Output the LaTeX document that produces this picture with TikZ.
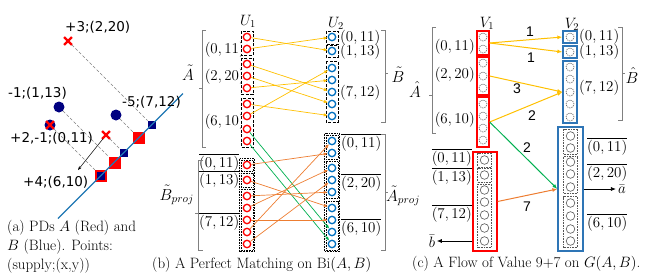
\RequirePackage{fix-cm}
\documentclass[tikz,border=0pt]{standalone}
\usepackage{fontspec}
\usetikzlibrary{arrows.meta,shapes.misc}
\newfontfamily\dvsans{DejaVu Sans}
\newfontfamily\lsans{Liberation Sans}
\newcommand\myfs{\fontsize{15}{19}\selectfont}
\newcommand\bigfs{\fontsize{16}{19}\selectfont}
\definecolor{pdnavy}{HTML}{000080}
\definecolor{diagblue}{HTML}{1F77B4}
\definecolor{cblue}{HTML}{0070C0}
\definecolor{boxblue}{HTML}{2E75B6}
\definecolor{eyel}{HTML}{FFC000}
\definecolor{eorg}{HTML}{ED7D31}
\definecolor{egrn}{HTML}{00B050}
\definecolor{brgray}{HTML}{808080}
\definecolor{cgray}{HTML}{555555}
\begin{document}
\begin{tikzpicture}[x=1pt,y=-1pt,font=\myfs,
  lab/.style={inner sep=0pt},
  plab/.style={inner sep=0pt,font=\dvsans\fontsize{13.5}{16}\selectfont},
  elab/.style={inner sep=0pt,font=\lsans\fontsize{14}{16}\selectfont},
  blab/.style={inner sep=0pt,font=\bigfs},
  rc/.style={circle,draw=red,line width=1.3pt,fill=white,minimum size=7.4pt,inner sep=0pt},
  bcc/.style={circle,draw=cblue,line width=1.3pt,fill=white,minimum size=7.4pt,inner sep=0pt},
  dashbox/.style={draw=black,line width=1pt,dash pattern=on 3pt off 1.5pt,fill=white},
  dotbox/.style={draw=black,line width=0.8pt,dash pattern=on 0.8pt off 0.8pt,fill=white},
  yel/.style={draw=eyel,line width=0.7pt,-{Latex[length=4pt,width=3.4pt]}},
  org/.style={draw=eorg,line width=0.7pt,-{Latex[length=4pt,width=3.4pt]}},
  grn/.style={draw=egrn,line width=0.7pt,-{Latex[length=4pt,width=3.4pt]}},
  yelc/.style={draw=eyel,line width=1pt,-{Latex[length=5pt,width=4pt]}},
  orgc/.style={draw=eorg,line width=1pt,-{Latex[length=5pt,width=4pt]}},
  grnc/.style={draw=egrn,line width=1pt,-{Latex[length=5pt,width=4pt]}},
  blkc/.style={draw=black,line width=0.7pt,-{Latex[length=5pt,width=4pt]}},
  brk/.style={draw=brgray,line width=0.8pt},
  redbox/.style={rectangle,draw=red,line width=1.3pt,fill=white,minimum width=12pt,inner sep=0pt},
  bluebox/.style={rectangle,draw=boxblue,line width=1.3pt,fill=white,minimum width=14pt,inner sep=0pt},
  ibox/.style={rectangle,draw=cgray,line width=0.7pt,dash pattern=on 0.8pt off 0.8pt,fill=white,minimum width=14pt,inner sep=0pt},
  dcirc/.style={circle,draw=cgray,line width=0.6pt,dash pattern=on 1.2pt off 1pt,minimum size=8pt,inner sep=0pt},
  scirc/.style={circle,draw=cgray,line width=0.6pt,minimum size=8.6pt,inner sep=0pt},
  bdot/.style={circle,fill=pdnavy,minimum size=11pt,inner sep=0pt},
  xm/.style={cross out,draw=red,line width=2.3pt,minimum size=5.5pt,inner sep=0pt},
  rsq/.style={rectangle,fill=red,minimum size=12pt,inner sep=0pt},
  nsq/.style={rectangle,fill=pdnavy,minimum size=8.5pt,inner sep=0pt},
  pdash/.style={draw=brgray,line width=0.7pt,dash pattern=on 3pt off 2pt}]
\useasboundingbox (0,0) rectangle (664,274);

% ================= panel (a) =================
\node[bdot] (pB1) at (59,107) {};
\node[bdot] (pB2) at (116,115) {};
\node[bdot] (pB0) at (50,125) {};
\node[xm] (pA1) at (68,41) {};
\node[xm] (pA2) at (106,135) {};
\node[xm] (pA0) at (50,125) {};
\node[rsq] (sB2) at (139,138) {};
\node[rsq] (sB1) at (114.5,162.5) {};
\node[rsq] (sB0) at (101,176) {};
\node[nsq] (sA1) at (152,125) {};
\node[nsq] (sA2) at (124,153) {};
\node[nsq] (sA0) at (101,176) {};
\draw[pdash] (pA1) -- (sA1);
\draw[pdash] (pB2) -- (sB2);
\draw[pdash] (pB1) -- (sB1);
\draw[pdash] (pB0) -- (sB0);
\draw[pdash] (pA2) -- (sA2);
\coordinate (d1) at (58,218.5);
\coordinate (d2) at (183,93.5);
\draw[diagblue,line width=1.1pt] (d1) -- (d2);
\coordinate (ann) at (78,170);
\draw[black,line width=0.5pt,-{Stealth[length=4pt,width=3pt]}] (pA2) -- (ann);
\node[plab,anchor=west] (lA1) at (65,27) {+3;(2,20)};
\node[plab,anchor=west] (lB1) at (8,93) {-1;(1,13)};
\node[plab,anchor=west] (lB0) at (10,138) {+2,-1;(0,11)};
\node[plab,anchor=west] (lB2) at (122,102) {-5;(7,12)};
\node[plab,anchor=west] (lA2) at (23,182) {+4;(6,10)};
\node[lab,anchor=base west] (capa1) at (7,231) {(a) PDs $A$ (Red) and};
\node[lab,anchor=base west] (capa2) at (7,250) {$B$ (Blue). Points:};
\node[lab,anchor=base west] (capa3) at (7,269) {(supply;(x,y))};

% ================= panel (b) =================
\node[lab,anchor=east] (tA1) at (245,50) {$(0,11)$};
\node[lab,anchor=east] (tA2) at (245,77) {$(2,20)$};
\node[lab,anchor=east] (tA3) at (245,122) {$(6,10)$};
\node[lab,anchor=base west] (tB1) at (199,167) {$\overline{(0,11)}$};
\node[lab,anchor=base west] (tB2) at (199,184) {$\overline{(1,13)}$};
\node[lab,anchor=base west] (tB3) at (199,226) {$\overline{(7,12)}$};
\node[lab,anchor=west] (uB1) at (340,38) {$(0,11)$};
\node[lab,anchor=west] (uB2) at (340,52) {$(1,13)$};
\node[lab,anchor=west] (uB3) at (340,93) {$(7,12)$};
\node[lab,anchor=base west] (uA1) at (341,147) {$\overline{(0,11)}$};
\node[lab,anchor=base west] (uA2) at (341,187) {$\overline{(2,20)}$};
\node[lab,anchor=base west] (uA3) at (341,232) {$\overline{(6,10)}$};

\draw[dashbox] (241,31) rectangle (253,55);
\draw[dashbox] (241,58) rectangle (253,94);
\draw[dashbox] (241,98) rectangle (253,147);
\draw[dashbox] (326,31) rectangle (338,44);
\draw[dashbox] (326,45.5) rectangle (338,57);
\draw[dashbox] (326,61) rectangle (338,122);
\draw[dotbox] (239.5,158.5) rectangle (254.5,251.5);
\draw[dotbox] (241,160) rectangle (253,171.5);
\draw[dotbox] (241,173) rectangle (253,187);
\draw[dotbox] (241,189) rectangle (253,250);
\draw[dotbox] (324.5,133.5) rectangle (339.5,251.5);
\draw[dotbox] (326,135) rectangle (338,159);
\draw[dotbox] (326,161.5) rectangle (338,198.5);
\draw[dotbox] (326,201.5) rectangle (338,250);

\foreach \n/\y in {1/37,2/49,3/64,4/76,5/88,6/104,7/116,8/129,9/141,10/165,11/180,12/196,13/208,14/220,15/232,16/244}
  \node[rc] (r\n) at (247,\y) {};
\foreach \n/\y in {1/37,2/51,3/68,4/80,5/92,6/104,7/116,8/141,9/153,10/168,11/180,12/192,13/208,14/220,15/232,16/244}
  \node[bcc] (b\n) at (332,\y) {};

\foreach \a/\b in {1/2,2/1,3/5,4/6,5/4,6/7,7/3} \draw[yel] (r\a) -- (b\b);
\foreach \a/\b in {8/15,9/16} \draw[grn] (r\a) -- (b\b);
\foreach \a/\b in {10/9,11/13,12/12,13/10,14/14,15/8,16/11} \draw[org] (r\a) -- (b\b);

\node[lab,anchor=base] (U1) at (248,25) {$U_1$};
\node[lab,anchor=base] (U2) at (336,27) {$U_2$};

\draw[brk] (206,30) -- (202,30) -- (202,147) -- (206,147);
\draw[brk] (202,88) -- (199,88);
\draw[brk] (203,160) -- (198,160) -- (198,250) -- (203,250);
\draw[brk] (198,213) -- (195,213);
\draw[brk] (381,30) -- (385,30) -- (385,122) -- (381,122);
\draw[brk] (385,73) -- (388,73);
\draw[brk] (381,134) -- (385,134) -- (385,250) -- (381,250);
\draw[brk] (385,192) -- (388,192);
\node[blab,anchor=base] (lAt) at (188,80) {$\tilde A$};
\node[blab,anchor=base east] (lBp) at (194,200) {$\tilde B_{proj}$};
\node[blab,anchor=base] (lBt) at (398,82) {$\tilde B$};
\node[blab,anchor=base west] (lAp) at (386,201) {$\tilde A_{proj}$};
\node[lab,anchor=base west] (capb) at (152,268) {(b) A Perfect Matching on Bi$(A,B)$};

% ================= panel (c) =================
\node[lab,anchor=east] (cA1) at (475,47) {$(0,11)$};
\node[lab,anchor=east] (cA2) at (475,75) {$(2,20)$};
\node[lab,anchor=east] (cA3) at (475,120) {$(6,10)$};
\node[lab,anchor=base east] (cB1) at (472,162) {$\overline{(0,11)}$};
\node[lab,anchor=base east] (cB2) at (472,181) {$\overline{(1,13)}$};
\node[lab,anchor=base east] (cB3) at (472,218) {$\overline{(7,12)}$};
\node[lab,anchor=west] (dB1) at (579,37) {$(0,11)$};
\node[lab,anchor=west] (dB2) at (579,52) {$(1,13)$};
\node[lab,anchor=west] (dB3) at (579,88) {$(7,12)$};
\node[lab,anchor=base west] (dA1) at (587,151) {$\overline{(0,11)}$};
\node[lab,anchor=base west] (dA2) at (587,177) {$\overline{(2,20)}$};
\node[lab,anchor=base west] (dA3) at (587,227) {$\overline{(6,10)}$};

\draw[brk] (436,27) -- (432,27) -- (432,133) -- (436,133);
\draw[brk] (432,95) -- (429,95);
\draw[brk] (618,27) -- (622,27) -- (622,120) -- (618,120);
\draw[brk] (622,73) -- (625,73);
\node[blab,anchor=base] (lAh) at (415,97) {$\hat A$};
\node[blab,anchor=base] (lBh) at (632,83) {$\hat B$};

% V1 top
\node[redbox,minimum height=24pt] (v1a) at (483,43) {};
\node[redbox,minimum height=38pt] (v1b) at (483,76) {};
\node[redbox,minimum height=50pt] (v1c) at (483,122) {};
\foreach \n/\y in {1/37,2/49,3/63,4/76,5/88,6/104,7/116,8/128,9/140}
  \node[dcirc] (vc\n) at (483,\y) {};
% V2 top
\node[bluebox,minimum height=12pt] (v2a) at (570,37) {};
\node[bluebox,minimum height=12pt] (v2b) at (570,52) {};
\node[bluebox,minimum height=62pt] (v2c) at (570,92) {};
\foreach \n/\y in {1/37,2/52,3/67,4/79,5/92,6/104,7/117}
  \node[dcirc] (wc\n) at (570,\y) {};
% V1 bottom
\node[redbox,minimum width=24pt,minimum height=99pt] (v1d) at (485,201.5) {};
\node[ibox,minimum height=14pt] (v1d1) at (484.5,160) {};
\node[ibox,minimum height=14pt] (v1d2) at (484.5,175) {};
\node[ibox,minimum height=63pt] (v1d3) at (484.5,215.5) {};
\foreach \n/\y in {1/160,2/175,3/190,4/202,5/215,6/228,7/241}
  \node[scirc] (xc\n) at (484.5,\y) {};
% V2 bottom
\node[bluebox,minimum width=25pt,minimum height=124pt] (v2d) at (570.5,189) {};
\node[ibox,minimum height=25pt] (v2d1) at (570.5,141.5) {};
\node[ibox,minimum height=37pt] (v2d2) at (570.5,174.5) {};
\node[ibox,minimum height=51pt] (v2d3) at (570.5,222) {};
\foreach \n/\y in {1/136,2/148,3/162,4/174,5/187,6/203,7/216,8/229,9/241}
  \node[scirc] (yc\n) at (570.5,\y) {};

\node[lab,anchor=base] (V1) at (487,27) {$V_1$};
\node[lab,anchor=base] (V2) at (572,28) {$V_2$};

\draw[yelc] (v1a.east) -- (v2a.west);
\draw[yelc] (v1a.east) -- (v2b.west);
\draw[yelc] (v1b.east) -- (v2c.west);
\draw[yelc] (v1c.east) -- (v2c.west);
\draw[grnc] (v1c.east) -- (v2d.west);
\draw[orgc] (v1d.east) -- (v2d.west);
\node[elab] (w1) at (530,32) {1};
\node[elab] (w2) at (531,58) {1};
\node[elab] (w3) at (517,89) {3};
\node[elab] (w4) at (532,116) {2};
\node[elab] (w5) at (527,148) {2};
\node[elab] (w6) at (527,207) {7};

\node[inner sep=2pt] (abar) at (622,189) {$\bar a$};
\draw[blkc] (v2d.east) -- (abar.west);
\node[inner sep=1.5pt] (bbar) at (432,241) {$\bar b$};
\draw[blkc] (v1d.west |- bbar.east) -- (bbar.east);

\node[lab,anchor=base west] (capc) at (412,267) {(c) A Flow of Value 9+7 on $G(A,B)$.};
\end{tikzpicture}
\end{document}
